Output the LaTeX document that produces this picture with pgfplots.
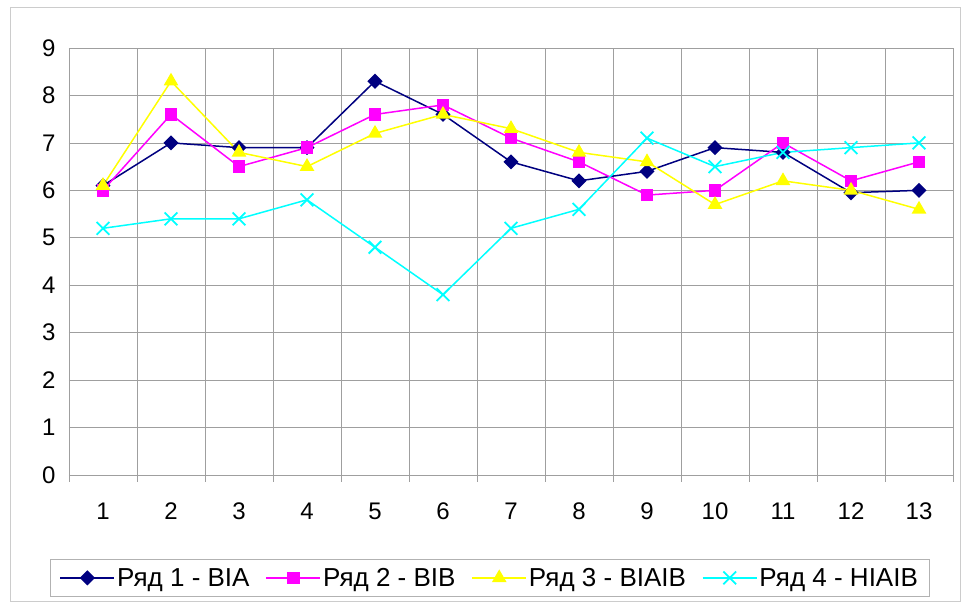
\documentclass[border=0pt]{standalone}
\usepackage{pgfplots}
\pgfplotsset{compat=1.18}
\usepackage{fontspec}
\setmainfont{Liberation Sans}
\definecolor{sNavy}{HTML}{000080}
\definecolor{sMag}{HTML}{FF00FF}
\definecolor{sYel}{HTML}{FFFF00}
\definecolor{sCyan}{HTML}{00FFFF}
\begin{document}
\begin{tikzpicture}
\useasboundingbox (-69pt,-130pt) rectangle (901pt,475pt);
\fill[white] (-69pt,-130pt) rectangle (901pt,475pt);
\draw[gray!40, line width=1pt] (-58pt,-127pt) rectangle (891pt,467pt);
\begin{axis}[
  scale only axis, width=884pt, height=427pt,
  at={(0pt,0pt)}, anchor=south west,
  xmin=0.5, xmax=13.5, ymin=0, ymax=9,
  xtick={1,...,13}, ytick={0,...,9},
  minor xtick={0.5,1.5,...,13.5},
  xminorgrids=true, ymajorgrids=true, xmajorgrids=false,
  grid style={gray!75, line width=0.7pt},
  minor grid style={gray!75, line width=0.7pt},
  axis line style={gray!75, line width=0.7pt},
  major tick length=0pt,
  minor tick length=7pt,
  tick align=outside,
  xtick pos=bottom, ytick pos=left,
  minor tick style={gray!75, line width=0.7pt},
  tick label style={font=\fontsize{24}{28}\selectfont},
  /pgf/number format/assume math mode=true,
  yticklabel style={xshift=-10pt},
  xticklabel style={yshift=-24pt},
  legend columns=4,
  legend style={at={(0.476,-0.241)}, anchor=center, font=\fontsize{26}{30}\selectfont,
    draw=gray!60, line width=0.8pt, inner xsep=9pt, inner ysep=7pt,
    /tikz/every even column/.append style={column sep=14pt}},
  legend image code/.code={\draw[mark repeat=2,mark phase=2] plot coordinates {(0pt,0pt)(27pt,0pt)(54pt,0pt)};},
  every axis plot/.append style={line width=1.5pt},
]
\addplot[color=sNavy, mark=square*, mark size=4.6pt, mark options={fill=sNavy, rotate=45}] coordinates {
(1,6.1)(2,7.0)(3,6.9)(4,6.9)(5,8.3)(6,7.6)(7,6.6)(8,6.2)(9,6.4)(10,6.9)(11,6.8)(12,5.95)(13,6.0)};
\addlegendentry{Ряд 1 - BIA}
\addplot[color=sMag, mark=square*, mark size=5.5pt, mark options={fill=sMag}] coordinates {
(1,6.0)(2,7.6)(3,6.5)(4,6.9)(5,7.6)(6,7.8)(7,7.1)(8,6.6)(9,5.9)(10,6.0)(11,7.0)(12,6.2)(13,6.6)};
\addlegendentry{Ряд 2 - BIB}
\addplot[color=sYel, mark=triangle*, mark size=7pt, mark options={fill=sYel}] coordinates {
(1,6.1)(2,8.3)(3,6.8)(4,6.5)(5,7.2)(6,7.6)(7,7.3)(8,6.8)(9,6.6)(10,5.7)(11,6.2)(12,6.0)(13,5.6)};
\addlegendentry{Ряд 3 - BIAIB}
\addplot[color=sCyan, mark=x, mark size=9pt, mark options={line width=1.8pt}] coordinates {
(1,5.2)(2,5.4)(3,5.4)(4,5.8)(5,4.8)(6,3.8)(7,5.2)(8,5.6)(9,7.1)(10,6.5)(11,6.8)(12,6.9)(13,7.0)};
\addlegendentry{Ряд 4 - HIAIB}
\end{axis}
\end{tikzpicture}
\end{document}
